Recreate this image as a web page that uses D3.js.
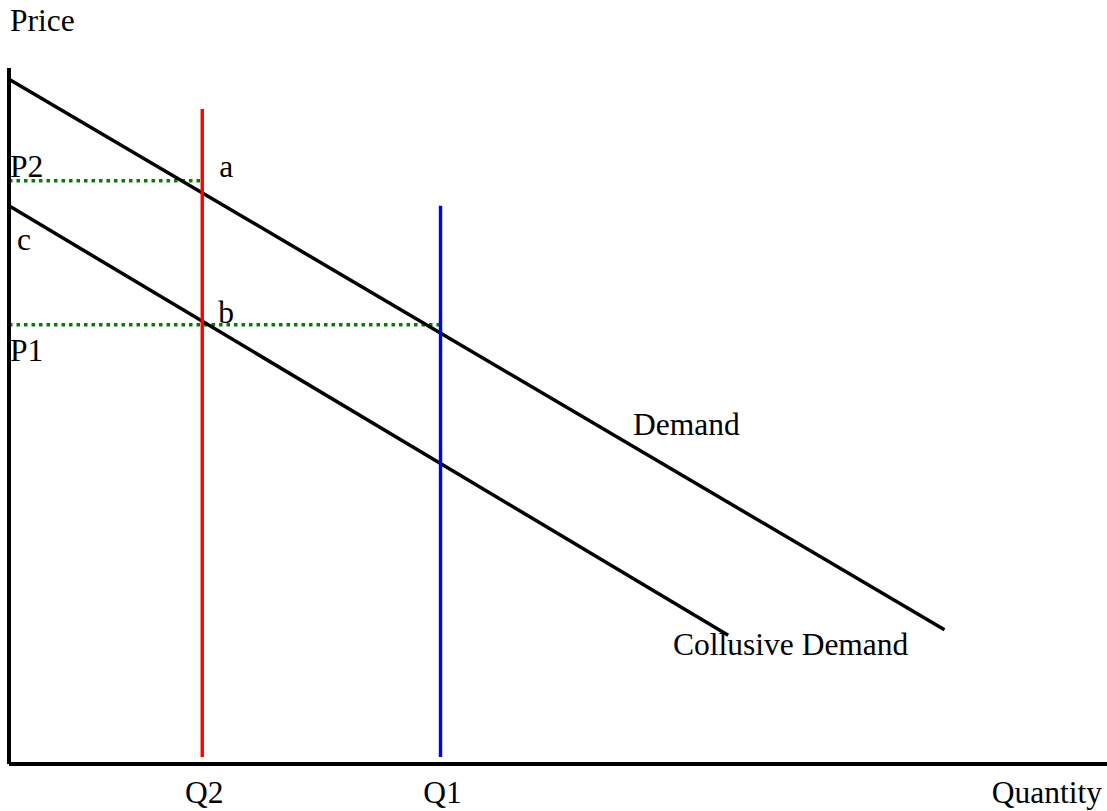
<!DOCTYPE html>
<html>
<head>
<meta charset="utf-8">
<script src="https://cdn.jsdelivr.net/npm/d3@7"></script>
<style>
  html, body { margin: 0; padding: 0; background: #ffffff; }
  svg { display: block; }
  text { font-family: "Liberation Serif", "Times New Roman", serif; font-size: 31.5px; fill: #000; }
</style>
</head>
<body>
<svg id="chart" width="1107" height="811"></svg>
<script>
// ---- data (economic units: quantity 0..100, price 0..100) ----
const axisLabels = ["Price", "Quantity"];
const demand = [[0, 98.4], [85.2, 19.3]];
const collusiveDemand = [[0, 80.2], [65.5, 18.5]];
const quantityNames = ["Q2", "Q1"];
const quantityValues = [17.6, 39.3];
const quantityTops = [94.1, 80.2];
const priceNames = ["P2", "P1"];
const priceValues = [83.8, 63.1];
const pointNames = ["a", "b", "c"];
const pointValues = [[17.6, 83.8], [17.6, 63.1], [0, 80.2]];
const curveNames = ["Demand", "Collusive Demand"];

// ---- layout ----
const W = 1107, H = 811;
const plotLeft = 9, plotRight = 1107, plotTop = 68, plotBottom = 764;
const x = d3.scaleLinear().domain([0, 100]).range([plotLeft, plotRight]);
const y = d3.scaleLinear().domain([0, 100]).range([plotBottom, plotTop]);

const svg = d3.select("#chart");
const line = d3.line().x(d => x(d[0])).y(d => y(d[1]));

// price guide lines (green dotted)
svg.selectAll("line.guide").data(priceValues.map((p, i) => ({p, q: quantityValues[i]})))
  .enter().append("line")
  .attr("x1", x(0)).attr("x2", d => x(d.q))
  .attr("y1", d => y(d.p)).attr("y2", d => y(d.p))
  .attr("stroke", "#008000").attr("stroke-width", 3.5)
  .attr("stroke-dasharray", "3.5,4");

// demand curves
[demand, collusiveDemand].forEach(c => {
  svg.append("path").attr("d", line(c))
    .attr("fill", "none").attr("stroke", "#000").attr("stroke-width", 3.5);
});

// quantity lines (red, blue)
const qColors = ["#ff0000", "#0000ff"];
svg.selectAll("line.q").data(quantityValues).enter().append("line")
  .attr("x1", d => x(d)).attr("x2", d => x(d))
  .attr("y1", (d, i) => y(quantityTops[i])).attr("y2", y(1))
  .attr("stroke", (d, i) => qColors[i]).attr("stroke-width", 3.4);

// axes
svg.append("line").attr("x1", x(0)).attr("x2", x(0)).attr("y1", plotTop).attr("y2", plotBottom)
  .attr("stroke", "#000").attr("stroke-width", 4);
svg.append("line").attr("x1", x(0)).attr("x2", plotRight).attr("y1", plotBottom).attr("y2", plotBottom)
  .attr("stroke", "#000").attr("stroke-width", 4);

// axis titles
svg.append("text").attr("x", 10).attr("y", 31).text(axisLabels[0]);
svg.append("text").attr("x", plotRight - 5).attr("y", 803).attr("text-anchor", "end").text(axisLabels[1]);

// quantity labels
svg.selectAll("text.ql").data(quantityNames).enter().append("text")
  .attr("x", (d, i) => x(quantityValues[i]) + 2).attr("y", 803)
  .attr("text-anchor", "middle").text(d => d);

// price labels
svg.append("text").attr("x", 10).attr("y", y(priceValues[0]) - 4).text(priceNames[0]);
svg.append("text").attr("x", 10).attr("y", y(priceValues[1]) + 36).text(priceNames[1]);

// point labels
svg.append("text").attr("x", x(pointValues[0][0]) + 17).attr("y", y(pointValues[0][1]) - 4).text(pointNames[0]);
svg.append("text").attr("x", x(pointValues[1][0]) + 16).attr("y", y(pointValues[1][1]) - 2).text(pointNames[1]);
svg.append("text").attr("x", x(pointValues[2][0]) + 8).attr("y", y(pointValues[2][1]) + 44).text(pointNames[2]);

// curve labels
svg.append("text").attr("x", 633).attr("y", 435).text(curveNames[0]);
svg.append("text").attr("x", 673).attr("y", 655).text(curveNames[1]);
</script>
</body>
</html>
